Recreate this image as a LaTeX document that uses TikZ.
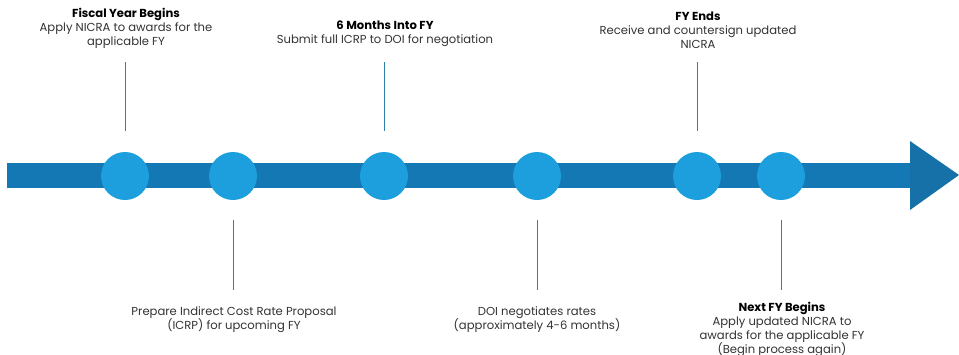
\documentclass[tikz,border=0pt]{standalone}
\usepackage{fontspec}
\setmainfont{Poppins}
\usetikzlibrary{positioning}

\definecolor{barblue}{HTML}{1478B4}
\definecolor{headblue}{HTML}{1571A8}
\definecolor{dotblue}{HTML}{1C9FDC}
\definecolor{stemblue}{HTML}{2C80A8}
\definecolor{txtgray}{HTML}{333333}

\newcommand{\stagehead}[1]{{\bfseries\color{black}#1}}

\begin{document}
\begin{tikzpicture}[
  x=1pt, y=-1pt,
  dot/.style={circle, fill=dotblue, minimum size=48pt, inner sep=0pt},
  stem/.style={draw=stemblue, line width=0.9pt},
  note/.style={align=center, text=txtgray, font=\fontsize{11.6}{14}\selectfont, inner sep=0pt}
]
\useasboundingbox (0,0) rectangle (959,354);

% the time line
\fill[barblue] (7,163) rectangle (911,188);
\fill[headblue] (910,141) -- (959,175) -- (910,210) -- cycle;

% milestones
\node[dot] (c1) at (125,176) {};
\node[dot] (c2) at (233,176) {};
\node[dot] (c3) at (384,176) {};
\node[dot] (c4) at (537,176) {};
\node[dot] (c5) at (697,176) {};
\node[dot] (c6) at (781,176) {};

% stems
\foreach \c in {c1,c3,c5}
  \draw[stem] ([yshift=21pt]\c.north) -- ++(0,-69);
\foreach \c in {c2,c4,c6}
  \draw[stem] ([yshift=-20pt]\c.south) -- ++(0,70);

% texts above
\node[note, anchor=north] (t1) at (126,8.5)
  {\stagehead{Fiscal Year Begins}\\Apply NICRA to awards for the\\applicable FY};
\node[note, anchor=north] (t3) at (385,21)
  {\stagehead{6 Months Into FY}\\Submit full ICRP to DOI for negotiation};
\node[note, anchor=north] (t5) at (698,11.5)
  {\stagehead{FY Ends}\\Receive and countersign updated\\NICRA};

% texts below
\node[note, anchor=north] (t2) at (234,306)
  {Prepare Indirect Cost Rate Proposal\\(ICRP) for upcoming FY};
\node[note, anchor=north] (t4) at (537,306)
  {DOI negotiates rates\\(approximately 4-6 months)};
\node[note, anchor=north] (t6) at (782,302)
  {\stagehead{Next FY Begins}\\Apply updated NICRA to\\awards for the applicable FY\\(Begin process again)};
\end{tikzpicture}
\end{document}
